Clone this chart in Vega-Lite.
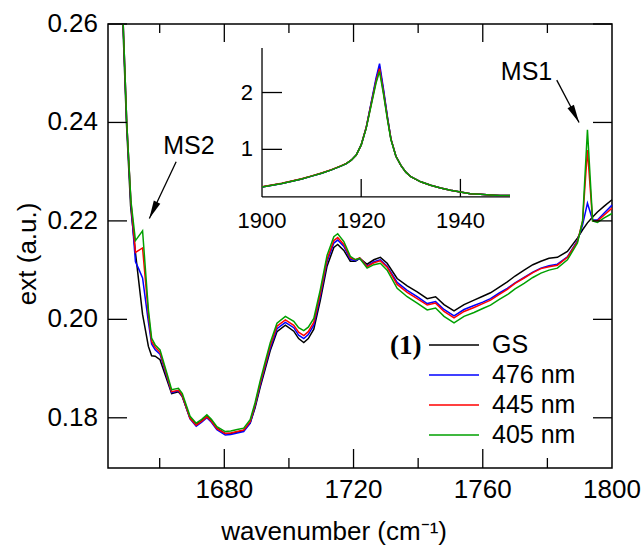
{
  "$schema": "https://vega.github.io/schema/vega-lite/v6.json",
  "autosize": {"type": "none"},
  "padding": {"left": 108, "top": 24, "right": 31, "bottom": 78},
  "width": 504,
  "height": 444,
  "background": "white",
  "config": {
    "font": "Liberation Sans",
    "view": {"stroke": "black", "strokeWidth": 1.5},
    "tick": {"color": "black", "thickness": 1.3, "opacity": 1},
    "text": {"color": "black", "font": "Liberation Sans"}
  },
  "datasets": {
    "main": [
      {"s":"GS","x":1648.6,"y":0.2600},{"s":"GS","x":1649.7,"y":0.2400},{"s":"GS","x":1651,"y":0.2230},{"s":"GS","x":1652.5,"y":0.2135},{"s":"GS","x":1654.7,"y":0.2010},{"s":"GS","x":1656.5,"y":0.1945},{"s":"GS","x":1657.5,"y":0.1926},{"s":"GS","x":1658.6,"y":0.1925},{"s":"GS","x":1660.1,"y":0.1918},{"s":"GS","x":1662.2,"y":0.1878},{"s":"GS","x":1663.7,"y":0.1849},{"s":"GS","x":1665.8,"y":0.1853},{"s":"GS","x":1667,"y":0.1843},{"s":"GS","x":1669.4,"y":0.1799},{"s":"GS","x":1671.3,"y":0.1786},{"s":"GS","x":1673,"y":0.1794},{"s":"GS","x":1674.6,"y":0.1803},{"s":"GS","x":1676,"y":0.1794},{"s":"GS","x":1677.7,"y":0.1779},{"s":"GS","x":1680.3,"y":0.1768},{"s":"GS","x":1682,"y":0.1768},{"s":"GS","x":1684,"y":0.1771},{"s":"GS","x":1686,"y":0.1774},{"s":"GS","x":1688,"y":0.1789},{"s":"GS","x":1689.5,"y":0.1820},{"s":"GS","x":1691.1,"y":0.1862},{"s":"GS","x":1692.7,"y":0.1900},{"s":"GS","x":1694.2,"y":0.1936},{"s":"GS","x":1696.3,"y":0.1975},{"s":"GS","x":1698.9,"y":0.1988},{"s":"GS","x":1701.5,"y":0.1976},{"s":"GS","x":1703,"y":0.1961},{"s":"GS","x":1704.6,"y":0.1953},{"s":"GS","x":1706,"y":0.1961},{"s":"GS","x":1707.7,"y":0.1980},{"s":"GS","x":1709.7,"y":0.2038},{"s":"GS","x":1711.8,"y":0.2108},{"s":"GS","x":1713.9,"y":0.2146},{"s":"GS","x":1715.1,"y":0.2152},{"s":"GS","x":1717,"y":0.2140},{"s":"GS","x":1719,"y":0.2118},{"s":"GS","x":1720.6,"y":0.2118},{"s":"GS","x":1721.9,"y":0.2124},{"s":"GS","x":1724.2,"y":0.2112},{"s":"GS","x":1726.3,"y":0.2121},{"s":"GS","x":1728.3,"y":0.2126},{"s":"GS","x":1730.4,"y":0.2114},{"s":"GS","x":1733.5,"y":0.2083},{"s":"GS","x":1736.6,"y":0.2068},{"s":"GS","x":1739.7,"y":0.2056},{"s":"GS","x":1742.8,"y":0.2042},{"s":"GS","x":1745.4,"y":0.2046},{"s":"GS","x":1748,"y":0.2030},{"s":"GS","x":1751.1,"y":0.2017},{"s":"GS","x":1754.2,"y":0.2030},{"s":"GS","x":1757.3,"y":0.2039},{"s":"GS","x":1760,"y":0.2047},{"s":"GS","x":1762.4,"y":0.2054},{"s":"GS","x":1765,"y":0.2065},{"s":"GS","x":1767.6,"y":0.2076},{"s":"GS","x":1770,"y":0.2088},{"s":"GS","x":1772.8,"y":0.2100},{"s":"GS","x":1775.5,"y":0.2111},{"s":"GS","x":1778,"y":0.2118},{"s":"GS","x":1780.5,"y":0.2124},{"s":"GS","x":1783.1,"y":0.2126},{"s":"GS","x":1786.2,"y":0.2138},{"s":"GS","x":1789.3,"y":0.2165},{"s":"GS","x":1790.9,"y":0.2182},{"s":"GS","x":1792.4,"y":0.2196},{"s":"GS","x":1794,"y":0.2208},{"s":"GS","x":1795.5,"y":0.2218},{"s":"GS","x":1797.6,"y":0.2230},{"s":"GS","x":1800,"y":0.2243},

      {"s":"476 nm","x":1648.7,"y":0.2600},{"s":"476 nm","x":1649.8,"y":0.2400},{"s":"476 nm","x":1651.1,"y":0.2235},{"s":"476 nm","x":1652.5,"y":0.2117},{"s":"476 nm","x":1653.4,"y":0.2104},{"s":"476 nm","x":1654.7,"y":0.2084},{"s":"476 nm","x":1656.5,"y":0.1995},{"s":"476 nm","x":1657.5,"y":0.1950},{"s":"476 nm","x":1658.6,"y":0.1938},{"s":"476 nm","x":1660.1,"y":0.1929},{"s":"476 nm","x":1662.2,"y":0.1884},{"s":"476 nm","x":1663.7,"y":0.1851},{"s":"476 nm","x":1665.8,"y":0.1855},{"s":"476 nm","x":1667,"y":0.1844},{"s":"476 nm","x":1669.4,"y":0.1798},{"s":"476 nm","x":1671.3,"y":0.1783},{"s":"476 nm","x":1673,"y":0.1791},{"s":"476 nm","x":1674.6,"y":0.1800},{"s":"476 nm","x":1676,"y":0.1791},{"s":"476 nm","x":1677.7,"y":0.1776},{"s":"476 nm","x":1680.3,"y":0.1765},{"s":"476 nm","x":1682,"y":0.1766},{"s":"476 nm","x":1684,"y":0.1769},{"s":"476 nm","x":1686,"y":0.1772},{"s":"476 nm","x":1688,"y":0.1789},{"s":"476 nm","x":1689.5,"y":0.1823},{"s":"476 nm","x":1691.1,"y":0.1866},{"s":"476 nm","x":1692.7,"y":0.1905},{"s":"476 nm","x":1694.2,"y":0.1941},{"s":"476 nm","x":1696.3,"y":0.1981},{"s":"476 nm","x":1698.9,"y":0.1994},{"s":"476 nm","x":1701.5,"y":0.1983},{"s":"476 nm","x":1703,"y":0.1968},{"s":"476 nm","x":1704.6,"y":0.1961},{"s":"476 nm","x":1706,"y":0.1969},{"s":"476 nm","x":1707.7,"y":0.1988},{"s":"476 nm","x":1709.7,"y":0.2046},{"s":"476 nm","x":1711.8,"y":0.2117},{"s":"476 nm","x":1713.9,"y":0.2155},{"s":"476 nm","x":1715.1,"y":0.2161},{"s":"476 nm","x":1717,"y":0.2148},{"s":"476 nm","x":1719,"y":0.2122},{"s":"476 nm","x":1720.6,"y":0.2119},{"s":"476 nm","x":1721.9,"y":0.2124},{"s":"476 nm","x":1724.2,"y":0.2108},{"s":"476 nm","x":1726.3,"y":0.2117},{"s":"476 nm","x":1728.3,"y":0.2121},{"s":"476 nm","x":1730.4,"y":0.2108},{"s":"476 nm","x":1733.5,"y":0.2075},{"s":"476 nm","x":1736.6,"y":0.2059},{"s":"476 nm","x":1739.7,"y":0.2046},{"s":"476 nm","x":1742.8,"y":0.2032},{"s":"476 nm","x":1745.4,"y":0.2036},{"s":"476 nm","x":1748,"y":0.2020},{"s":"476 nm","x":1751.1,"y":0.2007},{"s":"476 nm","x":1754.2,"y":0.2020},{"s":"476 nm","x":1757.3,"y":0.2028},{"s":"476 nm","x":1760,"y":0.2035},{"s":"476 nm","x":1762.4,"y":0.2042},{"s":"476 nm","x":1765,"y":0.2053},{"s":"476 nm","x":1767.6,"y":0.2063},{"s":"476 nm","x":1770,"y":0.2074},{"s":"476 nm","x":1772.8,"y":0.2085},{"s":"476 nm","x":1775.5,"y":0.2096},{"s":"476 nm","x":1778,"y":0.2104},{"s":"476 nm","x":1780.5,"y":0.2109},{"s":"476 nm","x":1783.1,"y":0.2112},{"s":"476 nm","x":1786.2,"y":0.2127},{"s":"476 nm","x":1789.3,"y":0.2160},{"s":"476 nm","x":1790.9,"y":0.2192},{"s":"476 nm","x":1792.4,"y":0.2236},{"s":"476 nm","x":1794,"y":0.2202},{"s":"476 nm","x":1795.5,"y":0.2202},{"s":"476 nm","x":1797.6,"y":0.2216},{"s":"476 nm","x":1800,"y":0.2232},

      {"s":"445 nm","x":1648.7,"y":0.2600},{"s":"445 nm","x":1649.8,"y":0.2400},{"s":"445 nm","x":1651.1,"y":0.2238},{"s":"445 nm","x":1652.5,"y":0.2136},{"s":"445 nm","x":1654.7,"y":0.2145},{"s":"445 nm","x":1656.5,"y":0.2010},{"s":"445 nm","x":1657.5,"y":0.1955},{"s":"445 nm","x":1658.6,"y":0.1943},{"s":"445 nm","x":1660.1,"y":0.1933},{"s":"445 nm","x":1662.2,"y":0.1887},{"s":"445 nm","x":1663.7,"y":0.1853},{"s":"445 nm","x":1665.8,"y":0.1856},{"s":"445 nm","x":1667,"y":0.1845},{"s":"445 nm","x":1669.4,"y":0.1799},{"s":"445 nm","x":1671.3,"y":0.1785},{"s":"445 nm","x":1673,"y":0.1793},{"s":"445 nm","x":1674.6,"y":0.1802},{"s":"445 nm","x":1676,"y":0.1793},{"s":"445 nm","x":1677.7,"y":0.1778},{"s":"445 nm","x":1680.3,"y":0.1768},{"s":"445 nm","x":1682,"y":0.1769},{"s":"445 nm","x":1684,"y":0.1772},{"s":"445 nm","x":1686,"y":0.1775},{"s":"445 nm","x":1688,"y":0.1792},{"s":"445 nm","x":1689.5,"y":0.1826},{"s":"445 nm","x":1691.1,"y":0.1870},{"s":"445 nm","x":1692.7,"y":0.1909},{"s":"445 nm","x":1694.2,"y":0.1946},{"s":"445 nm","x":1696.3,"y":0.1986},{"s":"445 nm","x":1698.9,"y":0.1999},{"s":"445 nm","x":1701.5,"y":0.1988},{"s":"445 nm","x":1703,"y":0.1974},{"s":"445 nm","x":1704.6,"y":0.1967},{"s":"445 nm","x":1706,"y":0.1975},{"s":"445 nm","x":1707.7,"y":0.1994},{"s":"445 nm","x":1709.7,"y":0.2052},{"s":"445 nm","x":1711.8,"y":0.2122},{"s":"445 nm","x":1713.9,"y":0.2160},{"s":"445 nm","x":1715.1,"y":0.2166},{"s":"445 nm","x":1717,"y":0.2152},{"s":"445 nm","x":1719,"y":0.2125},{"s":"445 nm","x":1720.6,"y":0.2121},{"s":"445 nm","x":1721.9,"y":0.2125},{"s":"445 nm","x":1724.2,"y":0.2107},{"s":"445 nm","x":1726.3,"y":0.2115},{"s":"445 nm","x":1728.3,"y":0.2119},{"s":"445 nm","x":1730.4,"y":0.2106},{"s":"445 nm","x":1733.5,"y":0.2071},{"s":"445 nm","x":1736.6,"y":0.2055},{"s":"445 nm","x":1739.7,"y":0.2042},{"s":"445 nm","x":1742.8,"y":0.2029},{"s":"445 nm","x":1745.4,"y":0.2033},{"s":"445 nm","x":1748,"y":0.2016},{"s":"445 nm","x":1751.1,"y":0.2003},{"s":"445 nm","x":1754.2,"y":0.2016},{"s":"445 nm","x":1757.3,"y":0.2024},{"s":"445 nm","x":1760,"y":0.2032},{"s":"445 nm","x":1762.4,"y":0.2039},{"s":"445 nm","x":1765,"y":0.2050},{"s":"445 nm","x":1767.6,"y":0.2061},{"s":"445 nm","x":1770,"y":0.2073},{"s":"445 nm","x":1772.8,"y":0.2084},{"s":"445 nm","x":1775.5,"y":0.2095},{"s":"445 nm","x":1778,"y":0.2103},{"s":"445 nm","x":1780.5,"y":0.2107},{"s":"445 nm","x":1783.1,"y":0.2110},{"s":"445 nm","x":1786.2,"y":0.2126},{"s":"445 nm","x":1789.3,"y":0.2158},{"s":"445 nm","x":1790.9,"y":0.2200},{"s":"445 nm","x":1792.4,"y":0.2344},{"s":"445 nm","x":1794,"y":0.2200},{"s":"445 nm","x":1795.5,"y":0.2200},{"s":"445 nm","x":1797.6,"y":0.2212},{"s":"445 nm","x":1800,"y":0.2226},

      {"s":"405 nm","x":1648.7,"y":0.2600},{"s":"405 nm","x":1649.8,"y":0.2400},{"s":"405 nm","x":1651.1,"y":0.2240},{"s":"405 nm","x":1652.5,"y":0.2160},{"s":"405 nm","x":1654.7,"y":0.2180},{"s":"405 nm","x":1656.5,"y":0.2020},{"s":"405 nm","x":1657.5,"y":0.1962},{"s":"405 nm","x":1658.6,"y":0.1948},{"s":"405 nm","x":1660.1,"y":0.1938},{"s":"405 nm","x":1662.2,"y":0.1891},{"s":"405 nm","x":1663.7,"y":0.1857},{"s":"405 nm","x":1665.8,"y":0.1860},{"s":"405 nm","x":1667,"y":0.1849},{"s":"405 nm","x":1669.4,"y":0.1803},{"s":"405 nm","x":1671.3,"y":0.1789},{"s":"405 nm","x":1673,"y":0.1797},{"s":"405 nm","x":1674.6,"y":0.1806},{"s":"405 nm","x":1676,"y":0.1797},{"s":"405 nm","x":1677.7,"y":0.1782},{"s":"405 nm","x":1680.3,"y":0.1772},{"s":"405 nm","x":1682,"y":0.1773},{"s":"405 nm","x":1684,"y":0.1776},{"s":"405 nm","x":1686,"y":0.1779},{"s":"405 nm","x":1688,"y":0.1796},{"s":"405 nm","x":1689.5,"y":0.1830},{"s":"405 nm","x":1691.1,"y":0.1875},{"s":"405 nm","x":1692.7,"y":0.1915},{"s":"405 nm","x":1694.2,"y":0.1952},{"s":"405 nm","x":1696.3,"y":0.1992},{"s":"405 nm","x":1698.9,"y":0.2006},{"s":"405 nm","x":1701.5,"y":0.1996},{"s":"405 nm","x":1703,"y":0.1983},{"s":"405 nm","x":1704.6,"y":0.1977},{"s":"405 nm","x":1706,"y":0.1984},{"s":"405 nm","x":1707.7,"y":0.2002},{"s":"405 nm","x":1709.7,"y":0.2060},{"s":"405 nm","x":1711.8,"y":0.2130},{"s":"405 nm","x":1713.9,"y":0.2168},{"s":"405 nm","x":1715.1,"y":0.2174},{"s":"405 nm","x":1717,"y":0.2158},{"s":"405 nm","x":1719,"y":0.2128},{"s":"405 nm","x":1720.6,"y":0.2121},{"s":"405 nm","x":1721.9,"y":0.2124},{"s":"405 nm","x":1724.2,"y":0.2104},{"s":"405 nm","x":1726.3,"y":0.2111},{"s":"405 nm","x":1728.3,"y":0.2114},{"s":"405 nm","x":1730.4,"y":0.2100},{"s":"405 nm","x":1733.5,"y":0.2063},{"s":"405 nm","x":1736.6,"y":0.2046},{"s":"405 nm","x":1739.7,"y":0.2033},{"s":"405 nm","x":1742.8,"y":0.2019},{"s":"405 nm","x":1745.4,"y":0.2023},{"s":"405 nm","x":1748,"y":0.2006},{"s":"405 nm","x":1751.1,"y":0.1993},{"s":"405 nm","x":1754.2,"y":0.2006},{"s":"405 nm","x":1757.3,"y":0.2014},{"s":"405 nm","x":1760,"y":0.2022},{"s":"405 nm","x":1762.4,"y":0.2029},{"s":"405 nm","x":1765,"y":0.2040},{"s":"405 nm","x":1767.6,"y":0.2050},{"s":"405 nm","x":1770,"y":0.2062},{"s":"405 nm","x":1772.8,"y":0.2073},{"s":"405 nm","x":1775.5,"y":0.2085},{"s":"405 nm","x":1778,"y":0.2094},{"s":"405 nm","x":1780.5,"y":0.2100},{"s":"405 nm","x":1783.1,"y":0.2104},{"s":"405 nm","x":1786.2,"y":0.2121},{"s":"405 nm","x":1789.3,"y":0.2155},{"s":"405 nm","x":1790.9,"y":0.2200},{"s":"405 nm","x":1792.4,"y":0.2385},{"s":"405 nm","x":1794,"y":0.2200},{"s":"405 nm","x":1795.5,"y":0.2197},{"s":"405 nm","x":1797.6,"y":0.2206},{"s":"405 nm","x":1800,"y":0.2215}
    ],
    "inset": [
      {"s":"GS","x":1900,"y":0.34},{"s":"GS","x":1902,"y":0.37},{"s":"GS","x":1904,"y":0.40},{"s":"GS","x":1906,"y":0.44},{"s":"GS","x":1908,"y":0.48},{"s":"GS","x":1910,"y":0.53},{"s":"GS","x":1912,"y":0.58},{"s":"GS","x":1914,"y":0.64},{"s":"GS","x":1916,"y":0.71},{"s":"GS","x":1917,"y":0.75},{"s":"GS","x":1918,"y":0.81},{"s":"GS","x":1919,"y":0.90},{"s":"GS","x":1920,"y":1.08},{"s":"GS","x":1921,"y":1.38},{"s":"GS","x":1922,"y":1.80},{"s":"GS","x":1923,"y":2.22},{"s":"GS","x":1923.7,"y":2.45},{"s":"GS","x":1924.5,"y":2.02},{"s":"GS","x":1925.3,"y":1.55},{"s":"GS","x":1926,"y":1.18},{"s":"GS","x":1927,"y":0.88},{"s":"GS","x":1928,"y":0.72},{"s":"GS","x":1929,"y":0.60},{"s":"GS","x":1930,"y":0.52},{"s":"GS","x":1932,"y":0.43},{"s":"GS","x":1934,"y":0.37},{"s":"GS","x":1936,"y":0.32},{"s":"GS","x":1938,"y":0.28},{"s":"GS","x":1940,"y":0.25},{"s":"GS","x":1942,"y":0.22},{"s":"GS","x":1944,"y":0.21},{"s":"GS","x":1946,"y":0.20},{"s":"GS","x":1948,"y":0.19},{"s":"GS","x":1950,"y":0.19},
      {"s":"476 nm","x":1900,"y":0.34},{"s":"476 nm","x":1902,"y":0.37},{"s":"476 nm","x":1904,"y":0.40},{"s":"476 nm","x":1906,"y":0.44},{"s":"476 nm","x":1908,"y":0.48},{"s":"476 nm","x":1910,"y":0.53},{"s":"476 nm","x":1912,"y":0.58},{"s":"476 nm","x":1914,"y":0.64},{"s":"476 nm","x":1916,"y":0.71},{"s":"476 nm","x":1917,"y":0.75},{"s":"476 nm","x":1918,"y":0.81},{"s":"476 nm","x":1919,"y":0.90},{"s":"476 nm","x":1920,"y":1.08},{"s":"476 nm","x":1921,"y":1.38},{"s":"476 nm","x":1922,"y":1.82},{"s":"476 nm","x":1923,"y":2.26},{"s":"476 nm","x":1923.7,"y":2.51},{"s":"476 nm","x":1924.5,"y":2.06},{"s":"476 nm","x":1925.3,"y":1.57},{"s":"476 nm","x":1926,"y":1.18},{"s":"476 nm","x":1927,"y":0.88},{"s":"476 nm","x":1928,"y":0.72},{"s":"476 nm","x":1929,"y":0.60},{"s":"476 nm","x":1930,"y":0.52},{"s":"476 nm","x":1932,"y":0.43},{"s":"476 nm","x":1934,"y":0.37},{"s":"476 nm","x":1936,"y":0.32},{"s":"476 nm","x":1938,"y":0.28},{"s":"476 nm","x":1940,"y":0.25},{"s":"476 nm","x":1942,"y":0.22},{"s":"476 nm","x":1944,"y":0.21},{"s":"476 nm","x":1946,"y":0.20},{"s":"476 nm","x":1948,"y":0.19},{"s":"476 nm","x":1950,"y":0.19},
      {"s":"445 nm","x":1900,"y":0.345},{"s":"445 nm","x":1902,"y":0.375},{"s":"445 nm","x":1904,"y":0.405},{"s":"445 nm","x":1906,"y":0.445},{"s":"445 nm","x":1908,"y":0.485},{"s":"445 nm","x":1910,"y":0.535},{"s":"445 nm","x":1912,"y":0.585},{"s":"445 nm","x":1914,"y":0.645},{"s":"445 nm","x":1916,"y":0.715},{"s":"445 nm","x":1917,"y":0.755},{"s":"445 nm","x":1918,"y":0.81},{"s":"445 nm","x":1919,"y":0.90},{"s":"445 nm","x":1920,"y":1.08},{"s":"445 nm","x":1921,"y":1.38},{"s":"445 nm","x":1922,"y":1.79},{"s":"445 nm","x":1923,"y":2.20},{"s":"445 nm","x":1923.7,"y":2.42},{"s":"445 nm","x":1924.5,"y":2.00},{"s":"445 nm","x":1925.3,"y":1.54},{"s":"445 nm","x":1926,"y":1.18},{"s":"445 nm","x":1927,"y":0.88},{"s":"445 nm","x":1928,"y":0.72},{"s":"445 nm","x":1929,"y":0.60},{"s":"445 nm","x":1930,"y":0.52},{"s":"445 nm","x":1932,"y":0.43},{"s":"445 nm","x":1934,"y":0.37},{"s":"445 nm","x":1936,"y":0.32},{"s":"445 nm","x":1938,"y":0.28},{"s":"445 nm","x":1940,"y":0.25},{"s":"445 nm","x":1942,"y":0.22},{"s":"445 nm","x":1944,"y":0.21},{"s":"445 nm","x":1946,"y":0.20},{"s":"445 nm","x":1948,"y":0.19},{"s":"445 nm","x":1950,"y":0.19},
      {"s":"405 nm","x":1900,"y":0.34},{"s":"405 nm","x":1902,"y":0.37},{"s":"405 nm","x":1904,"y":0.40},{"s":"405 nm","x":1906,"y":0.44},{"s":"405 nm","x":1908,"y":0.48},{"s":"405 nm","x":1910,"y":0.53},{"s":"405 nm","x":1912,"y":0.58},{"s":"405 nm","x":1914,"y":0.64},{"s":"405 nm","x":1916,"y":0.71},{"s":"405 nm","x":1917,"y":0.75},{"s":"405 nm","x":1918,"y":0.81},{"s":"405 nm","x":1919,"y":0.90},{"s":"405 nm","x":1920,"y":1.08},{"s":"405 nm","x":1921,"y":1.37},{"s":"405 nm","x":1922,"y":1.77},{"s":"405 nm","x":1923,"y":2.17},{"s":"405 nm","x":1923.7,"y":2.37},{"s":"405 nm","x":1924.5,"y":1.97},{"s":"405 nm","x":1925.3,"y":1.52},{"s":"405 nm","x":1926,"y":1.17},{"s":"405 nm","x":1927,"y":0.88},{"s":"405 nm","x":1928,"y":0.72},{"s":"405 nm","x":1929,"y":0.60},{"s":"405 nm","x":1930,"y":0.52},{"s":"405 nm","x":1932,"y":0.43},{"s":"405 nm","x":1934,"y":0.37},{"s":"405 nm","x":1936,"y":0.32},{"s":"405 nm","x":1938,"y":0.28},{"s":"405 nm","x":1940,"y":0.25},{"s":"405 nm","x":1942,"y":0.22},{"s":"405 nm","x":1944,"y":0.21},{"s":"405 nm","x":1946,"y":0.20},{"s":"405 nm","x":1948,"y":0.19},{"s":"405 nm","x":1950,"y":0.19}
    ],
    "xt": [{"v":1660,"k":"minor"},{"v":1680,"k":"major"},{"v":1700,"k":"minor"},{"v":1720,"k":"major"},{"v":1740,"k":"minor"},{"v":1760,"k":"major"},{"v":1780,"k":"minor"},{"v":1800,"k":"major"}],
    "yt": [{"v":0.18},{"v":0.20},{"v":0.22},{"v":0.24},{"v":0.26}],
    "ixt": [{"v":1900},{"v":1920},{"v":1940}],
    "iyt": [{"v":1},{"v":2}],
    "one": [{}],
    "labels": [
      {"t":"MS2","x":1661.1,"y":0.2352},
      {"t":"MS1","x":1765.6,"y":0.2503}
    ],
    "arrows": [
      {"a":"MS2","x":1665.1,"y":0.2320,"x2":1656.8,"y2":0.2205},
      {"a":"MS1","x":1782.9,"y":0.2486,"x2":1789.8,"y2":0.2400},
      {"a":"tick","x":1680,"y":0.1698,"x2":1680,"y2":0.17366},
      {"a":"tick","x":1720,"y":0.1698,"x2":1720,"y2":0.17366},
      {"a":"tick","x":1760,"y":0.1698,"x2":1760,"y2":0.17366},
      {"a":"tick","x":1660,"y":0.1698,"x2":1660,"y2":0.17183},
      {"a":"tick","x":1700,"y":0.1698,"x2":1700,"y2":0.17183},
      {"a":"tick","x":1740,"y":0.1698,"x2":1740,"y2":0.17183},
      {"a":"tick","x":1780,"y":0.1698,"x2":1780,"y2":0.17183},
      {"a":"tick","x":1680,"y":0.26,"x2":1680,"y2":0.25635},
      {"a":"tick","x":1720,"y":0.26,"x2":1720,"y2":0.25635},
      {"a":"tick","x":1760,"y":0.26,"x2":1760,"y2":0.25635},
      {"a":"tick","x":1660,"y":0.26,"x2":1660,"y2":0.25817},
      {"a":"tick","x":1700,"y":0.26,"x2":1700,"y2":0.25817},
      {"a":"tick","x":1740,"y":0.26,"x2":1740,"y2":0.25817},
      {"a":"tick","x":1780,"y":0.26,"x2":1780,"y2":0.25817},
      {"a":"tick","x":1644,"y":0.18,"x2":1649.88,"y2":0.18},
      {"a":"tick","x":1644,"y":0.20,"x2":1649.88,"y2":0.20},
      {"a":"tick","x":1644,"y":0.22,"x2":1649.88,"y2":0.22},
      {"a":"tick","x":1644,"y":0.24,"x2":1649.88,"y2":0.24},
      {"a":"tick","x":1644,"y":0.26,"x2":1649.88,"y2":0.26},
      {"a":"tick","x":1800,"y":0.18,"x2":1794.12,"y2":0.18},
      {"a":"tick","x":1800,"y":0.20,"x2":1794.12,"y2":0.20},
      {"a":"tick","x":1800,"y":0.22,"x2":1794.12,"y2":0.22},
      {"a":"tick","x":1800,"y":0.24,"x2":1794.12,"y2":0.24},
      {"a":"tick","x":1800,"y":0.26,"x2":1794.12,"y2":0.26},
      {"a":"inset","x":1691.67,"y":0.22487,"x2":1768.43,"y2":0.22487},
      {"a":"inset","x":1691.67,"y":0.22487,"x2":1691.67,"y2":0.25513},
      {"a":"inset","x":1722.37,"y":0.22487,"x2":1722.37,"y2":0.22853},
      {"a":"inset","x":1753.08,"y":0.22487,"x2":1753.08,"y2":0.22853},
      {"a":"inset","x":1691.67,"y":0.23453,"x2":1697.86,"y2":0.23453},
      {"a":"inset","x":1691.67,"y":0.24608,"x2":1697.86,"y2":0.24608}
    ]
  },
  "layer": [
    {
      "layer": [
        {
          "data": {"name": "main"},
          "mark": {"type": "line", "strokeWidth": 1.5},
          "encoding": {
            "x": {"field": "x", "type": "quantitative", "scale": {"domain": [1644, 1800], "nice": false, "zero": false}, "axis": null},
            "y": {"field": "y", "type": "quantitative", "scale": {"domain": [0.1698, 0.26], "nice": false, "zero": false}, "axis": null},
            "color": {"field": "s", "type": "nominal", "sort": null,
              "scale": {"domain": ["GS", "476 nm", "445 nm", "405 nm"], "range": ["#000000", "#0000ff", "#ff0000", "#00a000"]},
              "legend": {"orient": "none", "legendX": 282, "legendY": 306, "title": "(1)", "titleOrient": "left", "titleAnchor": "start", "titleBaseline": "line-top", "titleLineHeight": 33,
                "titleFont": "Liberation Serif", "titleFontWeight": "bold", "titleFontSize": 27, "titleColor": "black", "titlePadding": 6,
                "symbolType": "stroke", "symbolSize": 2500, "symbolStrokeWidth": 1.5, "labelFontSize": 25, "labelFont": "Liberation Sans", "labelColor": "black",
                "labelOffset": 12, "clipHeight": 30, "rowPadding": 0, "padding": 0}}
          }
        },
        {
          "data": {"name": "xt"},
          "transform": [{"filter": "datum.k == 'major'"}],
          "mark": {"type": "text", "align": "center", "baseline": "top", "dy": 9, "fontSize": 26},
          "encoding": {"x": {"field": "v", "type": "quantitative", "axis": null}, "y": {"datum": 0.1698, "type": "quantitative", "axis": null}, "text": {"field": "v", "type": "quantitative", "format": "d"}}
        },
        {
          "data": {"name": "yt"},
          "mark": {"type": "text", "align": "right", "baseline": "middle", "dx": -10, "fontSize": 26},
          "encoding": {"y": {"field": "v", "type": "quantitative", "axis": null}, "x": {"datum": 1644, "type": "quantitative", "axis": null}, "text": {"field": "v", "type": "quantitative", "format": ".2f"}}
        },
        {
          "data": {"name": "one"},
          "mark": {"type": "text", "align": "center", "baseline": "alphabetic", "dy": 72, "fontSize": 26, "text": "wavenumber (cm⁻¹)"},
          "encoding": {"x": {"datum": 1714, "type": "quantitative", "axis": null}, "y": {"datum": 0.1698, "type": "quantitative", "axis": null}}
        },
        {
          "data": {"name": "one"},
          "mark": {"type": "text", "align": "center", "baseline": "middle", "angle": 270, "xOffset": -80, "fontSize": 26, "text": "ext (a.u.)"},
          "encoding": {"x": {"datum": 1644, "type": "quantitative", "axis": null}, "y": {"datum": 0.2133, "type": "quantitative", "axis": null}}
        },
        {
          "data": {"name": "arrows"},
          "mark": {"type": "rule", "color": "black", "strokeWidth": 1.3},
          "encoding": {
            "x": {"field": "x", "type": "quantitative", "axis": null},
            "y": {"field": "y", "type": "quantitative", "axis": null},
            "x2": {"field": "x2"},
            "y2": {"field": "y2"}
          }
        },
        {
          "data": {"name": "arrows"},
          "transform": [{"filter": "datum.a == 'MS2'"}],
          "mark": {"type": "point", "shape": "M0,0L-0.4,-2L0.4,-2Z", "size": 324, "filled": true, "color": "black", "opacity": 1, "angle": 25.3},
          "encoding": {
            "x": {"field": "x2", "type": "quantitative", "axis": null},
            "y": {"field": "y2", "type": "quantitative", "axis": null}
          }
        },
        {
          "data": {"name": "arrows"},
          "transform": [{"filter": "datum.a == 'MS1'"}],
          "mark": {"type": "point", "shape": "M0,0L-0.4,-2L0.4,-2Z", "size": 324, "filled": true, "color": "black", "opacity": 1, "angle": -27.6},
          "encoding": {
            "x": {"field": "x2", "type": "quantitative", "axis": null},
            "y": {"field": "y2", "type": "quantitative", "axis": null}
          }
        },
        {
          "data": {"name": "labels"},
          "mark": {"type": "text", "align": "left", "baseline": "middle", "fontSize": 25},
          "encoding": {
            "x": {"field": "x", "type": "quantitative", "axis": null},
            "y": {"field": "y", "type": "quantitative", "axis": null},
            "text": {"field": "t"}
          }
        }
      ]
    },
    {
      "layer": [
        {
          "data": {"name": "inset"},
          "mark": {"type": "line", "strokeWidth": 1.5},
          "encoding": {
            "x": {"field": "x", "type": "quantitative", "scale": {"domain": [1900, 1950], "range": [154, 402], "nice": false, "zero": false}, "axis": null},
            "y": {"field": "y", "type": "quantitative", "scale": {"domain": [0.163, 2.784], "range": [173, 24], "nice": false, "zero": false}, "axis": null},
            "color": {"field": "s", "type": "nominal", "sort": null,
              "scale": {"domain": ["GS", "476 nm", "445 nm", "405 nm"], "range": ["#000000", "#0000ff", "#ff0000", "#00a000"]},
              "legend": null}
          }
        },
        {
          "data": {"name": "ixt"},
          "mark": {"type": "text", "align": "center", "baseline": "top", "dy": 14, "fontSize": 22},
          "encoding": {"x": {"field": "v", "type": "quantitative", "axis": null}, "y": {"datum": 0.163, "type": "quantitative", "axis": null}, "text": {"field": "v", "type": "quantitative", "format": "d"}}
        },
        {
          "data": {"name": "iyt"},
          "mark": {"type": "text", "align": "right", "baseline": "middle", "dx": -9, "fontSize": 22},
          "encoding": {"y": {"field": "v", "type": "quantitative", "axis": null}, "x": {"datum": 1900, "type": "quantitative", "axis": null}, "text": {"field": "v", "type": "quantitative", "format": "d"}}
        }
      ]
    }
  ],
  "resolve": {"scale": {"x": "independent", "y": "independent"}}
}
